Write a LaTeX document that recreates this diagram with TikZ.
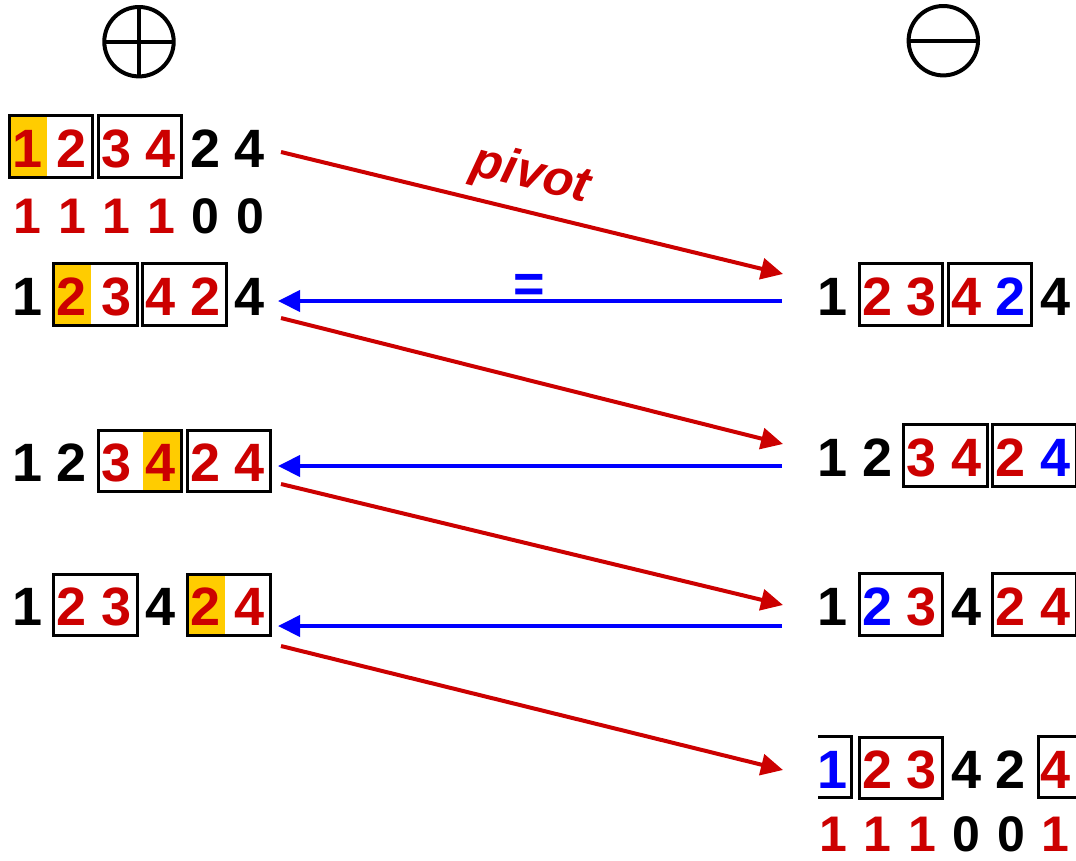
\documentclass[tikz,border=0pt]{standalone}
\usepackage{fontspec}
\setmainfont{Liberation Sans}
\usetikzlibrary{arrows.meta,calc,backgrounds}

\definecolor{pivred}{RGB}{204,0,0}
\definecolor{pivblue}{RGB}{0,0,255}
\definecolor{pivyellow}{RGB}{255,204,0}

\tikzset{
  dig/.style={inner sep=0pt, anchor=base, font=\fontsize{54}{60}\selectfont\bfseries},
  bitdig/.style={inner sep=0pt, anchor=base, font=\fontsize{50}{56}\selectfont\bfseries},
  boxline/.style={draw=black, line width=3pt},
  hilite/.style={fill=pivyellow},
  fwd/.style={draw=pivred, line width=4pt, -{Triangle[length=22pt,width=21pt]}},
  bwd/.style={draw=pivblue, line width=4pt, -{Triangle[length=22pt,width=21pt]}},
  signcircle/.style={circle, draw=black, line width=4pt, minimum size=69.4pt, inner sep=0pt, outer sep=0pt},
}

% a row of six digits: name prefix, style, x of first cell, baseline, colour/digit list
\newcommand\numrow[5]{%
  \foreach \c/\d [count=\i from 0] in {#5}
    \node[#2, text=\c] (#1-\i) at ({#3+44.5*\i}, #4) {\d};%
}
% frame round the cells from node #1 to node #2
\newcommand\grp[2]{%
  \draw[boxline] ($(#1.base)+(-18.5,-51.3)$) rectangle ($(#2.base)+(20.5,10.2)$);%
}
% yellow background of one cell
\newcommand\hicell[1]{%
  \begin{scope}[on background layer]
    \fill[hilite] ($(#1.base)+(-18.5,-51.3)$) rectangle ($(#1.base)+(19,10.2)$);
  \end{scope}%
}

\begin{document}
\begin{tikzpicture}[x=1pt,y=-1pt]
\useasboundingbox (0,0) rectangle (1076,860);

% signs
\node[signcircle] (plus) at (139,41.7) {};
\draw[line width=4pt] (plus.north) -- (plus.south) (plus.west) -- (plus.east);
\node[signcircle] (minus) at (943.3,40.7) {};
\draw[line width=4pt] (minus.west) -- (minus.east);

% left column
\numrow{L1}{dig}{27.5}{167}{pivred/1,pivred/2,pivred/3,pivred/4,black/2,black/4}
\hicell{L1-0}
\grp{L1-0}{L1-1}\grp{L1-2}{L1-3}
\numrow{LB}{bitdig}{27.5}{233}{pivred/1,pivred/1,pivred/1,pivred/1,black/0,black/0}

\numrow{L2}{dig}{27.5}{315}{black/1,pivred/2,pivred/3,pivred/4,pivred/2,black/4}
\hicell{L2-1}
\grp{L2-1}{L2-2}\grp{L2-3}{L2-4}

\numrow{L3}{dig}{27.5}{481.7}{black/1,black/2,pivred/3,pivred/4,pivred/2,pivred/4}
\hicell{L3-3}
\grp{L3-2}{L3-3}\grp{L3-4}{L3-5}

\numrow{L4}{dig}{27.5}{625.7}{black/1,pivred/2,pivred/3,black/4,pivred/2,pivred/4}
\hicell{L4-4}
\grp{L4-1}{L4-2}\grp{L4-4}{L4-5}

% right column
\numrow{R1}{dig}{833}{315}{black/1,pivred/2,pivred/3,pivred/4,pivblue/2,black/4}
\grp{R1-1}{R1-2}\grp{R1-3}{R1-4}

\numrow{R2}{dig}{833}{476}{black/1,black/2,pivred/3,pivred/4,pivred/2,pivblue/4}
\grp{R2-2}{R2-3}\grp{R2-4}{R2-5}

\numrow{R3}{dig}{833}{625}{black/1,pivblue/2,pivred/3,black/4,pivred/2,pivred/4}
\grp{R3-1}{R3-2}\grp{R3-4}{R3-5}

\numrow{R4}{dig}{833}{788.3}{pivblue/1,pivred/2,pivred/3,black/4,black/2,pivred/4}
\grp{R4-1}{R4-2}
\draw[boxline] ($(R4-0.base)+(-15,-51.6)$) -- ($(R4-0.base)+(18,-51.6)$)
  -- ($(R4-0.base)+(18,9.4)$) -- ($(R4-0.base)+(-15,9.4)$);
\draw[boxline] ($(R4-5.base)+(22,-51.6)$) -- ($(R4-5.base)+(-17,-51.6)$)
  -- ($(R4-5.base)+(-17,9.4)$) -- ($(R4-5.base)+(22,9.4)$);
\numrow{RB}{bitdig}{833}{851.7}{pivred/1,pivred/1,pivred/1,black/0,black/0,pivred/1}

% connector end points
\coordinate (f1s) at (281,152);   \coordinate (f1e) at (783,274);
\coordinate (f2s) at (281,318);   \coordinate (f2e) at (783,444);
\coordinate (f3s) at (281,484);   \coordinate (f3e) at (783,605);
\coordinate (f4s) at (281,646);   \coordinate (f4e) at (783,770);
\coordinate (b1s) at (782,301);   \coordinate (b1e) at (278,301);
\coordinate (b2s) at (782,466);   \coordinate (b2e) at (278,466);
\coordinate (b3s) at (782,626);   \coordinate (b3e) at (278,626);

\draw[fwd] (f1s) -- (f1e);
\draw[fwd] (f2s) -- (f2e);
\draw[fwd] (f3s) -- (f3e);
\draw[fwd] (f4s) -- (f4e);
\draw[bwd] (b1s) -- (b1e);
\draw[bwd] (b2s) -- (b2e);
\draw[bwd] (b3s) -- (b3e);

% labels
\node[inner sep=0pt, text=pivred, rotate=-14,
      font=\fontsize{50}{56}\selectfont\bfseries\itshape] (pivot) at (531,176) {pivot};
\node[inner sep=0pt, text=pivblue,
      font=\fontsize{54}{60}\selectfont\bfseries] (eq) at (529.7,288.8) {=};
\end{tikzpicture}
\end{document}
